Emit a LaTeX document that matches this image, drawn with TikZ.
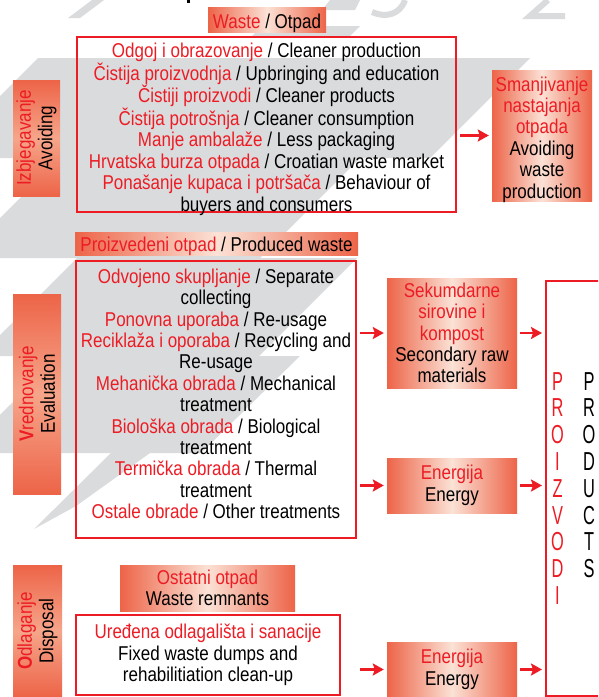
\documentclass[tikz,border=0pt]{standalone}
\usepackage{fontspec}
\setmainfont{Liberation Sans}[FakeStretch=0.85]
\newfontfamily\narrowfont{Liberation Sans}[FakeStretch=0.63]
\usetikzlibrary{arrows.meta}
\definecolor{myred}{RGB}{237,28,36}
\definecolor{gedge}{RGB}{237,100,72}
\definecolor{gmid}{RGB}{251,226,214}
\definecolor{gmidv}{RGB}{246,165,138}
\definecolor{stripe}{RGB}{218,219,221}
\newcommand{\redt}[1]{\textcolor{myred}{#1}}
\newcommand{\bodyfont}{\fontsize{20pt}{21.4pt}\selectfont}
\newcommand{\bigletters}{\narrowfont\fontsize{26pt}{26.8pt}\selectfont}
\begin{document}
\begin{tikzpicture}[x=1pt,y=-1pt,
  redbox/.style={draw=myred, line width=2pt, inner sep=0pt, align=center, font=\bodyfont},
  hgrad/.style={left color=gedge, right color=gedge, middle color=gmid, inner sep=0pt, align=center, font=\bodyfont},
  vgrad/.style={top color=gedge, bottom color=gedge, middle color=gmidv, inner sep=0pt},
  txt/.style={inner sep=0pt, align=center, font=\bodyfont},
  arr/.style={draw=myred, line width=2.6pt, -{Stealth[length=11pt,width=12pt,inset=2pt]}, shorten <=3pt, shorten >=3pt}]
\useasboundingbox (0,0) rectangle (598,697);
\clip (0,0) rectangle (598,697);
\fill[white] (0,0) rectangle (598,697);
% background stripes
\fill[stripe] (262,26) -- (360,26) -- (349,37) -- (251,37) -- cycle;
\fill[stripe] (38,58) -- (530,58) -- (430,158) -- (-62,158) -- cycle;
\fill[stripe] (60,158) -- (360,158) -- (260,258) -- (-40,258) -- cycle;
\fill[stripe] (77,258) -- (357,258) -- (259,356) -- (-21,356) -- cycle;
\fill[stripe] (60,356) -- (300,356) -- (201,453) -- (-39,453) -- cycle;
\fill[stripe] (34,529) -- (111,453) -- (150,453) -- (76,506) -- cycle;
% faint big glyph fragments at the top
\fill[stripe] (92,0) -- (104,0) -- (80,18) -- (68,18) -- cycle;
\fill[stripe] (330,0) -- (360,0) -- (355,10) -- (322,10) -- cycle;
\draw[stripe, line width=6pt] (405,0) .. controls (400,15) and (385,18) .. (372,12);
\draw[stripe, line width=6pt] (548,0) -- (530,16) -- (565,16);
\fill[black] (187,0) rectangle (190,3);
% top section
\node[hgrad, minimum width=118pt, minimum height=25pt] (waste) at (267,19.5) {};
\node[txt, anchor=base] (wastet) at (267,28.5) {\redt{Waste} / Otpad};
\node[redbox, minimum width=379pt, minimum height=175pt] (b1) at (266.5,124.5) {};
\node[txt, anchor=north] (b1t) at (266.5,43) {%
\redt{Odgoj i obrazovanje} / Cleaner production\\
\redt{Čistija proizvodnja} / Upbringing and education\\
\redt{Čistiji proizvodi} / Cleaner products\\
\redt{Čistija potrošnja} / Cleaner consumption\\
\redt{Manje ambalaže} / Less packaging\\
\redt{Hrvatska burza otpada} / Croatian waste market\\
\redt{Ponašanje kupaca i potršača} / Behaviour of\\
buyers and consumers};
\node[vgrad, minimum width=47pt, minimum height=116pt] (izb) at (36.5,138) {};
\node[txt, rotate=90] (izbt) at (izb.center) {\redt{Izbjegavanje}\\Avoiding};
\node[hgrad, minimum width=100pt, minimum height=131pt] (smanj) at (542,135.5) {};
\node[txt, anchor=north] (smanjt) at (542,76.5) {%
\redt{Smanjivanje}\\\redt{nastajanja}\\\redt{otpada}\\Avoiding\\waste\\production};
\draw[arr] (b1.east |- smanj.west) -- (smanj.west);
% middle section
\node[hgrad, minimum width=283pt, minimum height=23pt] (prodw) at (216.5,243.5) {};
\node[txt, anchor=base] (prodwt) at (216.5,251.5) {\redt{Proizvedeni otpad} / Produced waste};
\node[redbox, minimum width=280pt, minimum height=277pt] (b2) at (216,399.5) {};
\node[txt, anchor=north] (b2t) at (216,268.5) {%
\redt{Odvojeno skupljanje} / Separate\\
collecting\\
\redt{Ponovna uporaba} / Re-usage\\
\redt{Reciklaža i oporaba} / Recycling and\\
Re-usage\\
\redt{Mehanička obrada} / Mechanical\\
treatment\\
\redt{Biološka obrada} / Biological\\
treatment\\
\redt{Termička obrada} / Thermal\\
treatment\\
\redt{Ostale obrade} / Other treatments};
\node[vgrad, minimum width=48pt, minimum height=200pt] (vred) at (37,394) {};
\node[txt, rotate=90] (vredt) at (vred.center) {\redt{\textbf{V}rednovanje}\\Evaluation};
\node[hgrad, minimum width=130pt, minimum height=110pt] (sek) at (452,333) {%
\redt{Sekumdarne}\\\redt{sirovine i}\\\redt{kompost}\\Secondary raw\\materials};
\node[hgrad, minimum width=130pt, minimum height=55pt] (en1) at (452,485.5) {\redt{Energija}\\Energy};
% bottom section
\node[vgrad, minimum width=49pt, minimum height=132pt] (odl) at (37.5,631) {};
\node[txt, rotate=90] (odlt) at (odl.center) {\redt{\textbf{O}dlaganje}\\Disposal};
\node[hgrad, minimum width=175pt, minimum height=46pt] (ost) at (207.5,588) {\redt{Ostatni otpad}\\Waste remnants};
\node[redbox, minimum width=264pt, minimum height=80pt] (b3) at (208,655) {%
\redt{Uređena odlagališta i sanacije}\\Fixed waste dumps and\\rehabilitiation clean-up};
\node[hgrad, minimum width=130pt, minimum height=55pt] (en2) at (452,669.5) {\redt{Energija}\\Energy};
% products box
\node[draw=myred, line width=2pt, inner sep=0pt, minimum width=90pt, minimum height=415pt, anchor=north west] (prod) at (545,280) {};
\node[inner sep=0pt, align=center, anchor=north, font=\bigletters, text=myred] (pr1) at (557.5,372) {P\\R\\O\\I\\Z\\V\\O\\D\\I};
\node[inner sep=0pt, align=center, anchor=north, font=\bigletters] (pr2) at (589,372) {P\\R\\O\\D\\U\\C\\T\\S};
% arrows
\draw[arr] (b2.east |- sek.west) -- (sek.west);
\draw[arr] (sek.east) -- (prod.west |- sek.east);
\draw[arr] (b2.east |- en1.west) -- (en1.west);
\draw[arr] (en1.east) -- (prod.west |- en1.east);
\draw[arr] (b2.east |- en2.west) -- (en2.west);
\draw[arr] (en2.east) -- (prod.west |- en2.east);
\end{tikzpicture}
\end{document}
